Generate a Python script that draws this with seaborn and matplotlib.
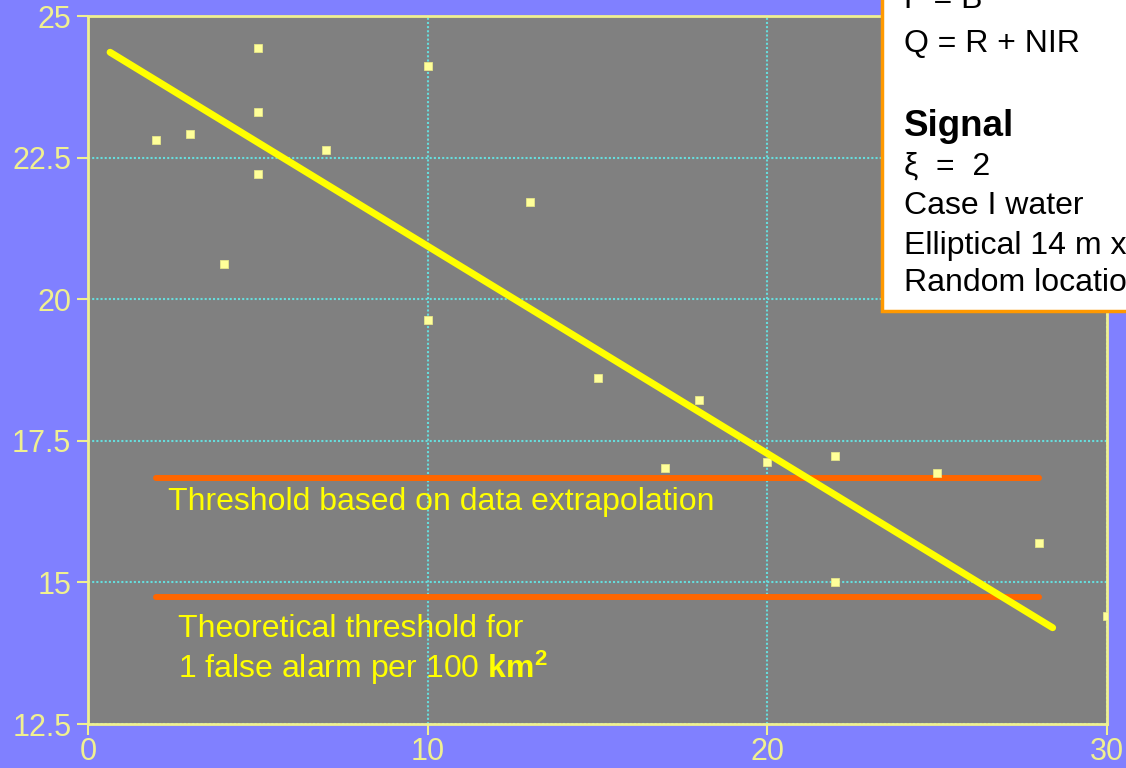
import numpy as np
import pandas as pd
import matplotlib
matplotlib.use("Agg")
import matplotlib.pyplot as plt
import seaborn as sns
from matplotlib.patches import Rectangle

# scatter values
x_vals = [2, 3, 4, 5, 5, 5, 7, 10, 10, 13, 15, 17, 18, 20, 22, 22, 25, 28, 30]
y_vals = [22.81, 22.92, 20.62, 24.44, 23.31, 22.21, 22.63, 24.12, 19.63, 21.72,
          18.61, 17.02, 18.22, 17.13, 17.23, 15.01, 16.93, 15.70, 14.40]

# fitted trend line end points
trend_x = [0.65, 28.4]
trend_y = [24.36, 14.2]

# threshold lines
thr_x = [2, 28]
thr_data = 16.85
thr_theory = 14.74

x_ticks = [0, 10, 20, 30]
y_ticks = [12.5, 15, 17.5, 20, 22.5, 25]
y_labels = ["12.5", "15", "17.5", "20", "22.5", "25"]

sns.set_style("white")
plt.rcParams["font.family"] = ["Liberation Sans", "DejaVu Sans"]
plt.rcParams["mathtext.fontset"] = "custom"
plt.rcParams["mathtext.rm"] = "Liberation Sans"
plt.rcParams["mathtext.bf"] = "Liberation Sans:bold"
plt.rcParams["xtick.bottom"] = True
plt.rcParams["ytick.left"] = True

fig = plt.figure(figsize=(11.26, 7.68), dpi=100, facecolor="#8080FF")
ax = fig.add_axes([88 / 1126, 1 - 724 / 768, (1107 - 88) / 1126, (724 - 16) / 768])
ax.set_facecolor("#808080")

df = pd.DataFrame({"x": x_vals, "y": y_vals})

ax.grid(True, color="#66DDDD", linestyle=(0, (1, 1)), linewidth=1.5)
ax.set_axisbelow(True)

# thresholds
sns.lineplot(x=thr_x, y=[thr_data, thr_data], color="#FF6600", linewidth=4.3, ax=ax)
sns.lineplot(x=thr_x, y=[thr_theory, thr_theory], color="#FF6600", linewidth=4.3, ax=ax)

sns.scatterplot(data=df, x="x", y="y", marker="s", s=30, color="#FFFF99",
                edgecolor="#EEEE88", linewidth=0.5, ax=ax, zorder=4)

sns.lineplot(x=trend_x, y=trend_y, color="#FFFF00", linewidth=5, ax=ax, zorder=5)

ax.set_xlim(0, 30)
ax.set_ylim(12.5, 25)
ax.set_xticks(x_ticks)
ax.set_yticks(y_ticks)
ax.set_yticklabels(y_labels)
ax.set_xlabel("")
ax.set_ylabel("")

for sp in ax.spines.values():
    sp.set_color("#F0F090")
    sp.set_linewidth(2)
ax.tick_params(colors="#F0F090", labelcolor="#F0F090", direction="out",
               length=8, width=1.5, labelsize=22, bottom=True, left=True)
ax.tick_params(axis="x", pad=1)
ax.tick_params(axis="y", pad=4)

ax.text(2.36, 16.42, "Threshold based on data extrapolation", color="#FFFF00",
        fontsize=23, va="center", ha="left", zorder=6)
ax.text(2.65, 14.18, "Theoretical threshold for", color="#FFFF00",
        fontsize=23, va="center", ha="left", zorder=6)
ax.text(2.65, 13.49, r"1 false alarm per 100 $\mathbf{km^2}$", color="#FFFF00",
        fontsize=23, va="center", ha="left", zorder=6)

# info box in the top right corner
fig.patches.append(Rectangle((882 / 1126, 1 - 311 / 768), 0.3, 0.5,
                             transform=fig.transFigure, facecolor="white",
                             edgecolor="#FF9900", linewidth=2.5, zorder=10))
box_lines = [
    (0, "P = B", "normal", 23),
    (44, "Q = R + NIR", "normal", 23),
    (126, "Signal", "bold", 26.5),
    (167, "ξ  =  2", "normal", 23),
    (206, "Case I water", "normal", 23),
    (246, "Elliptical 14 m x", "normal", 23),
    (283, "Random location", "normal", 23),
]
for py, txt, wt, fs in box_lines:
    fig.text(904 / 1126, 1 - py / 768, txt, color="black", fontsize=fs,
             fontweight=wt, va="center", ha="left", zorder=11)

fig.savefig("out.png", dpi=100, facecolor=fig.get_facecolor())
